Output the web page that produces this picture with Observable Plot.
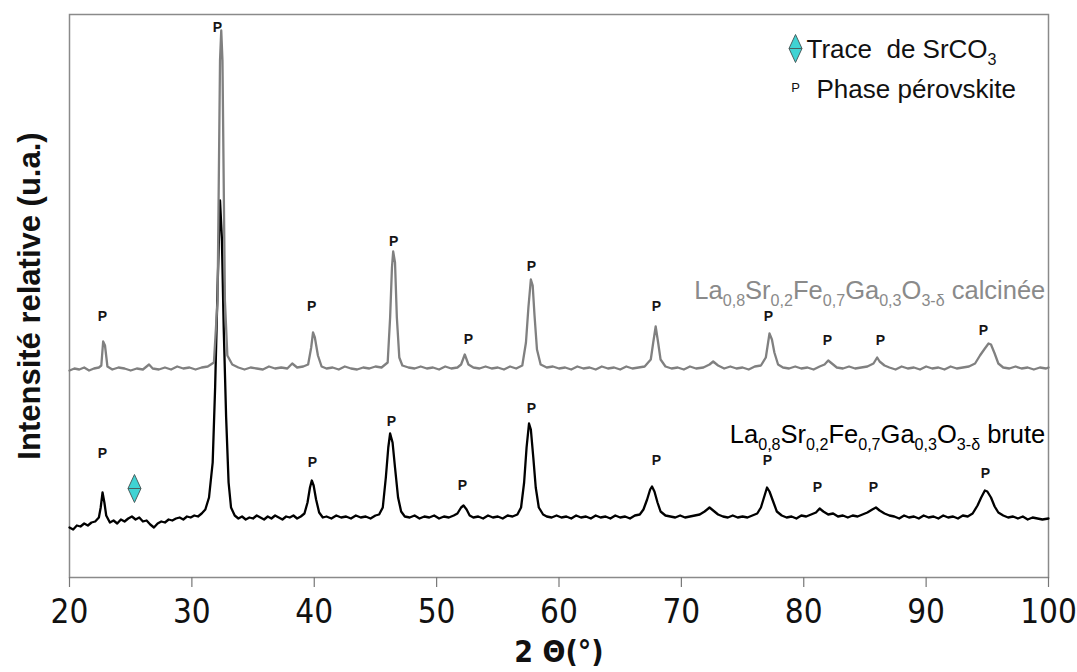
<!DOCTYPE html>
<html>
<head>
<meta charset="utf-8">
<script src="https://cdn.jsdelivr.net/npm/d3@7"></script>
<script src="https://cdn.jsdelivr.net/npm/@observablehq/plot@0.6"></script>
<style>
  html, body { margin: 0; padding: 0; background: #fff; }
  #chart { width: 1077px; height: 672px; }
</style>
</head>
<body>
<div id="chart"></div>
<script>
// ---------- data (2θ in degrees, intensity in arbitrary units) ----------
const xTicks = [20, 30, 40, 50, 60, 70, 80, 90, 100];

const calcinedPattern = [
  [20.0,207],[20.4,209],[20.8,208],[21.2,210],[21.6,207],[22.0,209],[22.4,210],[22.6,212],[22.75,236],[22.9,232],
  [23.1,211],[23.5,208],[24.0,210],[24.5,209],[25.0,207],[25.5,209],[26.0,208],[26.5,213],[26.8,209],[27.3,208],
  [27.8,210],[28.3,208],[28.8,211],[29.3,209],[29.8,210],[30.3,208],[30.8,210],[31.3,211],[31.8,215],[32.1,277],
  [32.3,517],[32.4,547],[32.5,517],[32.7,277],[32.9,222],[33.3,213],[33.8,210],[34.3,208],[34.8,210],[35.3,209],
  [35.8,208],[36.3,211],[36.8,209],[37.3,210],[37.8,209],[38.2,214],[38.6,210],[39.1,211],[39.5,213],[39.75,230],
  [39.9,245],[40.05,240],[40.3,222],[40.6,211],[41.0,209],[41.5,210],[42.0,208],[42.5,211],[43.0,209],[43.5,208],
  [44.0,210],[44.5,209],[45.0,211],[45.5,210],[46.0,215],[46.2,260],[46.35,310],[46.45,326],[46.6,315],[46.75,260],
  [46.95,220],[47.2,212],[47.7,210],[48.2,209],[48.7,211],[49.2,209],[49.7,210],[50.2,208],[50.7,211],[51.2,209],
  [51.7,210],[52.0,213],[52.3,223],[52.6,213],[53.0,210],[53.5,209],[54.0,211],[54.5,209],[55.0,210],[55.5,208],
  [56.0,211],[56.5,209],[57.0,212],[57.3,235],[57.5,270],[57.7,298],[57.85,292],[58.0,262],[58.2,228],[58.5,213],
  [59.0,210],[59.5,211],[60.0,209],[60.5,210],[61.0,208],[61.5,211],[62.0,209],[62.5,210],[63.0,208],[63.5,211],
  [64.0,209],[64.5,210],[65.0,208],[65.5,211],[66.0,209],[66.5,210],[67.0,211],[67.5,218],[67.7,235],[67.9,251],
  [68.1,235],[68.3,218],[68.7,211],[69.2,209],[69.7,210],[70.2,208],[70.7,211],[71.2,209],[71.8,210],[72.3,213],
  [72.6,216],[73.0,212],[73.5,209],[74.0,211],[74.5,209],[75.0,210],[75.5,208],[76.0,211],[76.5,212],[76.9,220],
  [77.2,244],[77.4,238],[77.6,225],[77.9,213],[78.3,210],[78.8,209],[79.3,211],[79.8,209],[80.3,210],[80.8,208],
  [81.3,211],[81.7,213],[82.0,217],[82.3,214],[82.7,210],[83.2,209],[83.7,211],[84.2,209],[84.7,210],[85.2,211],
  [85.7,214],[86.0,220],[86.2,216],[86.6,212],[87.0,210],[87.5,208],[88.0,211],[88.5,209],[89.0,210],[89.5,208],
  [90.0,211],[90.5,209],[91.0,210],[91.5,208],[92.0,211],[92.5,209],[93.0,210],[93.5,211],[94.0,214],[94.4,222],
  [94.8,229],[95.1,234],[95.3,233],[95.6,224],[95.9,214],[96.3,210],[96.8,209],[97.3,211],[97.8,209],[98.3,210],
  [98.8,208],[99.3,210],[99.8,209],[100.0,210]
];

const brutePattern = [
  [20.0,50],[20.3,48],[20.6,52],[20.9,51],[21.2,54],[21.5,52],[21.8,55],[22.1,56],[22.4,60],[22.55,70],
  [22.7,85],[22.85,75],[23.0,62],[23.3,55],[23.6,57],[23.9,54],[24.2,58],[24.5,56],[24.8,59],[25.1,61],
  [25.4,58],[25.7,60],[26.0,56],[26.3,57],[26.6,53],[26.9,50],[27.2,54],[27.5,56],[27.8,55],[28.1,58],
  [28.4,57],[28.7,59],[29.0,60],[29.3,58],[29.6,61],[29.9,60],[30.2,62],[30.5,61],[30.8,64],[31.1,68],
  [31.4,80],[31.7,115],[31.9,190],[32.1,290],[32.3,377],[32.45,340],[32.6,250],[32.8,160],[33.0,95],[33.2,70],
  [33.5,62],[33.8,59],[34.1,61],[34.4,58],[34.7,60],[35.0,59],[35.3,62],[35.6,60],[35.9,58],[36.2,61],
  [36.5,59],[36.8,62],[37.1,60],[37.4,58],[37.7,61],[38.0,60],[38.3,62],[38.6,59],[38.9,61],[39.2,64],
  [39.45,75],[39.65,90],[39.8,97],[39.95,92],[40.15,78],[40.4,65],[40.7,60],[41.0,61],[41.4,59],[41.8,62],
  [42.2,60],[42.6,61],[43.0,59],[43.4,62],[43.8,60],[44.2,61],[44.6,59],[45.0,62],[45.3,63],[45.6,70],
  [45.85,100],[46.05,130],[46.2,144],[46.4,135],[46.6,110],[46.85,80],[47.1,66],[47.4,61],[47.8,60],[48.2,62],
  [48.6,59],[49.0,61],[49.4,60],[49.8,62],[50.2,59],[50.6,61],[51.0,60],[51.4,62],[51.7,64],[52.0,70],
  [52.2,72],[52.45,68],[52.7,62],[53.0,60],[53.4,61],[53.8,59],[54.2,62],[54.6,60],[55.0,61],[55.4,59],
  [55.8,62],[56.2,61],[56.6,63],[56.9,70],[57.15,95],[57.35,130],[57.55,154],[57.7,148],[57.9,120],[58.1,90],
  [58.35,70],[58.7,63],[59.0,61],[59.4,60],[59.8,62],[60.2,60],[60.6,61],[61.0,59],[61.4,62],[61.8,60],
  [62.2,61],[62.6,59],[63.0,62],[63.4,60],[63.8,61],[64.2,59],[64.6,62],[65.0,60],[65.4,61],[65.8,59],
  [66.2,62],[66.6,63],[66.9,68],[67.2,78],[67.45,88],[67.6,91],[67.8,86],[68.05,75],[68.3,66],[68.7,62],
  [69.1,61],[69.5,60],[69.9,62],[70.3,60],[70.7,61],[71.1,62],[71.5,63],[71.9,66],[72.3,70],[72.6,67],
  [73.0,63],[73.4,61],[73.8,60],[74.2,62],[74.6,60],[75.0,61],[75.4,60],[75.8,62],[76.2,64],[76.5,70],
  [76.8,82],[77.0,90],[77.2,86],[77.5,76],[77.8,66],[78.2,62],[78.6,60],[79.0,61],[79.4,59],[79.8,62],
  [80.2,61],[80.6,63],[81.0,65],[81.3,69],[81.6,66],[82.0,63],[82.4,64],[82.8,61],[83.2,62],[83.6,60],
  [84.0,62],[84.4,61],[84.8,63],[85.2,65],[85.6,68],[85.9,70],[86.2,67],[86.6,64],[87.0,62],[87.4,61],
  [87.8,59],[88.2,62],[88.6,60],[89.0,61],[89.4,59],[89.8,62],[90.2,60],[90.6,61],[91.0,59],[91.4,62],
  [91.8,60],[92.2,61],[92.6,59],[93.0,62],[93.4,61],[93.8,64],[94.2,72],[94.5,80],[94.8,87],[95.0,86],
  [95.3,80],[95.6,71],[95.9,65],[96.3,62],[96.7,60],[97.1,61],[97.5,59],[97.9,61],[98.3,58],[98.7,60],
  [99.1,59],[99.5,58],[100.0,59]
];

// "P" (perovskite phase) markers: [2θ, height]
const calcinedPeakLabels = [
  [22.70,261],[32.09,550],[39.78,271],[46.48,336],[52.60,238],[57.75,311],
  [67.97,271],[77.12,261],[81.94,237],[86.27,237],[94.69,247]
];
const brutePeakLabels = [
  [22.70,124],[39.86,115],[46.31,156],[52.11,92],[57.75,169],
  [67.97,117],[77.04,117],[81.12,90],[85.70,90],[94.85,104]
];
// SrCO3 trace marker: [2θ, height]
const srco3Marks = [[25.31, 89]];

// Series labels: [2θ (end), height, markup, colour]
const seriesLabels = [
  [99.74, 287, "La_{0,8}Sr_{0,2}Fe_{0,7}Ga_{0,3}O_{3-δ} calcinée", "#8a8a8a"],
  [99.74, 143, "La_{0,8}Sr_{0,2}Fe_{0,7}Ga_{0,3}O_{3-δ} brute", "#000000"]
];
const legendItems = ["Trace\u00a0 de SrCO_{3}", "Phase pérovskite"];
const xLabel = "2 Θ(°)";
const yLabel = "Intensité relative (u.a.)";

// ---------- drawing ----------
const tallDiamond = {
  draw(ctx) {
    ctx.moveTo(0, -14); ctx.lineTo(6.5, 0); ctx.lineTo(0, 14); ctx.lineTo(-6.5, 0); ctx.closePath();
    ctx.moveTo(-6.5, 0); ctx.lineTo(6.5, 0);
  }
};
const narrow = "'Liberation Sans Narrow', 'Arial Narrow', 'DejaVu Sans Condensed', sans-serif";

const chart = Plot.plot({
  width: 1077,
  height: 672,
  marginLeft: 69,
  marginRight: 29,
  marginTop: 14,
  marginBottom: 95,
  style: {fontFamily: "'Liberation Sans', Arial, sans-serif", background: "#fff", overflow: "visible"},
  x: {domain: [20, 100]},
  y: {domain: [0, 563], axis: null},
  marks: [
    Plot.frame({stroke: "#8a8a8a", strokeWidth: 1.5}),
    Plot.axisX({ticks: xTicks, tickSize: 10, tickPadding: 12, stroke: "#777", strokeWidth: 1.2,
      fontSize: 33, fontFamily: narrow, fill: "#111", label: null}),
    Plot.line(brutePattern, {x: d => d[0], y: d => d[1], stroke: "#000", strokeWidth: 2.3}),
    Plot.line(calcinedPattern, {x: d => d[0], y: d => d[1], stroke: "#808080", strokeWidth: 2.3}),
    Plot.text(calcinedPeakLabels, {x: d => d[0], y: d => d[1], text: () => "P", fontSize: 14, fontWeight: "bold", fill: "#151515"}),
    Plot.text(brutePeakLabels, {x: d => d[0], y: d => d[1], text: () => "P", fontSize: 14, fontWeight: "bold", fill: "#151515"}),
    Plot.dot(srco3Marks, {x: d => d[0], y: d => d[1], symbol: tallDiamond, r: 5, fill: "#3fd3d3", stroke: "#4a6060", strokeWidth: 1}),
    Plot.text(seriesLabels, {x: d => d[0], y: d => d[1], text: d => d[2], fill: d => d[3], textAnchor: "end",
      lineAnchor: "middle", fontSize: 25.5, className: "rich"}),
    // legend
    Plot.dot([0], {frameAnchor: "top-right", dx: -253, dy: 34, symbol: tallDiamond, r: 5, fill: "#3fd3d3", stroke: "#4a6060", strokeWidth: 1}),
    Plot.text([legendItems[0]], {frameAnchor: "top-right", dx: -242, dy: 35, text: d => d, textAnchor: "start",
      lineAnchor: "middle", fontSize: 26, fill: "#111", className: "rich"}),
    Plot.text(["P"], {frameAnchor: "top-right", dx: -253, dy: 73, text: d => d, textAnchor: "middle",
      lineAnchor: "middle", fontSize: 13, fill: "#111"}),
    Plot.text([legendItems[1]], {frameAnchor: "top-right", dx: -232, dy: 75, text: d => d, textAnchor: "start",
      lineAnchor: "middle", fontSize: 26, fill: "#111"}),
    // axis titles
    Plot.text([xLabel], {frameAnchor: "bottom", dy: 75, text: d => d, textAnchor: "middle", lineAnchor: "middle",
      fontSize: 30, fontWeight: "bold", fontFamily: narrow, fill: "#111"}),
    Plot.text([yLabel], {frameAnchor: "left", dx: -39, rotate: -90, text: d => d, textAnchor: "middle",
      lineAnchor: "middle", fontSize: 31, fontWeight: "bold", fill: "#111"})
  ]
});

// turn _{...} markup into real subscript tspans
d3.select(chart).selectAll("g.rich text").each(function() {
  const el = this;
  const raw = el.textContent;
  const fs = parseFloat(getComputedStyle(el).fontSize) || 26;
  const shift = fs * 0.28;
  el.textContent = "";
  const parts = raw.split(/(_\{[^}]*\})/).filter(s => s.length);
  let lowered = false;
  for (const p of parts) {
    const m = p.match(/^_\{([^}]*)\}$/);
    const t = document.createElementNS("http://www.w3.org/2000/svg", "tspan");
    if (m) {
      t.textContent = m[1];
      t.setAttribute("font-size", (fs * 0.62).toFixed(1));
      if (!lowered) { t.setAttribute("dy", shift.toFixed(1)); lowered = true; }
    } else {
      t.textContent = p;
      if (lowered) { t.setAttribute("dy", (-shift).toFixed(1)); lowered = false; }
    }
    el.appendChild(t);
  }
});

document.getElementById("chart").appendChild(chart);
</script>
</body>
</html>
